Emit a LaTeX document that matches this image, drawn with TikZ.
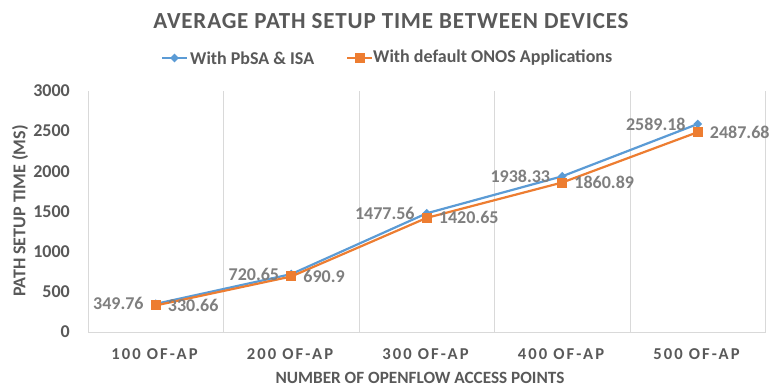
\documentclass[tikz,border=0pt]{standalone}
\usepackage{fontspec}
\setmainfont{Carlito}
\newfontfamily\titlefont[LetterSpace=3.6]{Carlito}
\newfontfamily\catfont[LetterSpace=13]{Carlito}
\usetikzlibrary{positioning,shapes.geometric,calc}
\definecolor{pbsaBlue}{HTML}{5B9BD5}
\definecolor{onosOrange}{HTML}{ED7D31}
\definecolor{axisGray}{HTML}{595959}
\definecolor{labelGray}{HTML}{7F7F7F}
\definecolor{gridGray}{HTML}{D9D9D9}

\begin{document}
\begin{tikzpicture}[x=1pt,y=1pt,
  gridline/.style={draw=gridGray,line width=1pt},
  series/.style={line width=2.2pt,line join=round},
  dmark/.style={diamond,fill=pbsaBlue,inner sep=0pt,minimum size=9pt},
  smark/.style={rectangle,fill=onosOrange,inner sep=0pt,minimum size=10pt},
  val/.style={text=labelGray,font=\bfseries\fontsize{18}{18}\selectfont,inner sep=0pt},
  ticklabel/.style={text=axisGray,font=\bfseries\fontsize{18}{18}\selectfont,anchor=east,inner sep=0pt},
  catlabel/.style={text=axisGray,font=\catfont\bfseries\fontsize{16.6}{16.6}\selectfont,inner sep=0pt},
  axtitle/.style={text=axisGray,font=\bfseries\fontsize{17.2}{17.2}\selectfont,inner sep=0pt},
  legtext/.style={text=axisGray,font=\bfseries\fontsize{18}{18}\selectfont,inner sep=0pt,anchor=west}]
  \useasboundingbox[fill=white] (0,0) rectangle (769,389);
  % frame of the plot
  \foreach \gx in {88,223.5,359,494.5,630,765.5}
    \draw[gridline] (\gx,57) -- (\gx,298);
  \draw[gridline] (88,57) -- (765.5,57);
  \foreach \t in {0,500,...,3000}
    \node[ticklabel] (t\t) at (70,{57+\t*0.080333}) {\t};
  % categories
  \foreach \i/\c in {1/100,2/200,3/300,4/400,5/500}
    \node[catlabel] (c\i) at ({154.5+135.5*(\i-1)},35) {\c{} OF-AP};
  % data points
  \foreach \i/\a/\b in {1/349.76/330.66,2/720.65/690.9,3/1477.56/1420.65,
                        4/1938.33/1860.89,5/2589.18/2487.68} {
    \coordinate (pa\i) at ({155.75+135.5*(\i-1)},{57+\a*0.080333});
    \coordinate (pb\i) at ({155.75+135.5*(\i-1)},{57+\b*0.080333});
  }
  \draw[series,pbsaBlue] (pa1) -- (pa2) -- (pa3) -- (pa4) -- (pa5);
  \draw[series,onosOrange] (pb1) -- (pb2) -- (pb3) -- (pb4) -- (pb5);
  \foreach \i/\a/\b in {1/349.76/330.66,2/720.65/690.9,3/1477.56/1420.65,
                        4/1938.33/1860.89,5/2589.18/2487.68} {
    \node[dmark] (ma\i) at (pa\i) {};
    \node[smark] (mb\i) at (pb\i) {};
    \node[val,left=12pt of pa\i] (la\i) {\a};
    \node[val,right=12pt of pb\i] (lb\i) {\b};
  }
  % titles
  \node[text=axisGray,font=\titlefont\bfseries\fontsize{23}{23}\selectfont] (title) at (391,368)
    {AVERAGE PATH SETUP TIME BETWEEN DEVICES};
  \node[axtitle] (xtitle) at (420,11) {NUMBER OF OPENFLOW ACCESS POINTS};
  \node[axtitle,font=\bfseries\fontsize{18}{18}\selectfont,rotate=90] (ytitle) at (20,178) {PATH SETUP TIME (MS)};
  % legend
  \coordinate (lgA) at (162,331);
  \coordinate (lgB) at (347,331);
  \draw[series,pbsaBlue] (lgA) -- ++(25,0) coordinate (lgAe);
  \node[dmark] at ($(lgA)!0.5!(lgAe)$) {};
  \node[legtext] (legA) at (190,331) {With PbSA \& ISA};
  \draw[series,onosOrange] (lgB) -- ++(25,0) coordinate (lgBe);
  \node[smark] at ($(lgB)!0.5!(lgBe)$) {};
  \node[legtext] (legB) at (373,331) {With default ONOS Applications};
\end{tikzpicture}
\end{document}
